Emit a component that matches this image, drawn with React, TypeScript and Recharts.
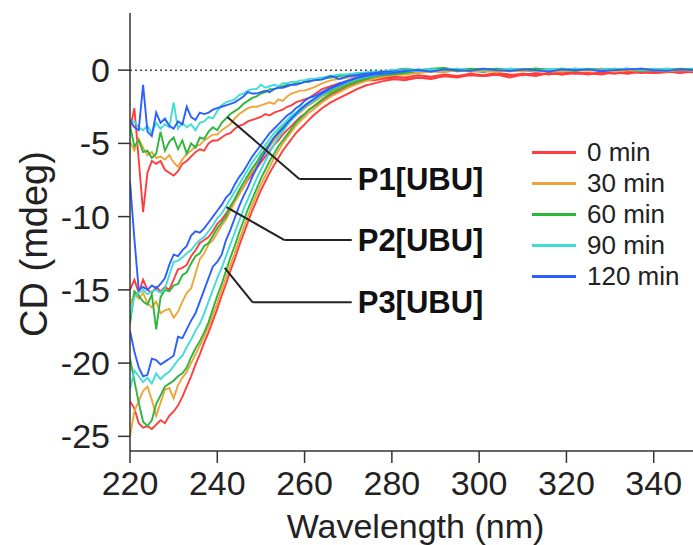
import React from 'react';
import {
  LineChart,
  Line,
  XAxis,
  YAxis,
  ReferenceLine,
  Legend
} from 'recharts';

const FONT = '"Liberation Sans", Arial, Helvetica, sans-serif';

// wavelength grid (nm)
const wavelengths = [
  220, 221, 222, 223, 224, 225, 226, 227, 228, 229, 230, 231, 232, 233, 234, 235, 236, 237, 238, 239,
  240, 241, 242, 243, 244, 245, 246, 247, 248, 249, 250, 251, 252, 253, 254, 255, 256, 257, 258, 259,
  260, 261, 262,
  264, 266, 268, 270, 272, 274, 276, 278, 280,
  283, 286, 289, 292, 295, 298, 301, 304, 307, 310, 313, 316, 319, 322, 325, 328, 331, 334, 337, 340,
  343, 346, 349
];

const xTicks = [220, 240, 260, 280, 300, 320, 340];
const yTicks = [-25, -20, -15, -10, -5, 0];

const times = ['0 min', '30 min', '60 min', '90 min', '120 min'];
const colors = ['#ff3d3d', '#eda53a', '#2db53c', '#3fdcd8', '#2b5fff'];

// P1[UBU]
const p1_0 = [
  -4.0, -2.6, -6.1, -9.7, -7.0, -6.2, -6.4, -6.2, -6.8, -7.0, -7.2, -6.9, -6.4, -6.2, -5.9, -5.6, -5.4, -5.5, -5.0, -4.8,
  -4.8, -4.6, -4.4, -4.3, -4.0, -3.8, -3.7, -3.5, -3.4, -3.3, -3.2, -3.0, -3.1, -2.9, -2.8, -2.7, -2.5, -2.4, -2.2, -2.1,
  -2.0, -1.9, -1.7,
  -1.3, -1.1, -0.9, -0.9, -0.8, -0.7, -0.7, -0.6, -0.6,
  -0.7, -0.5, -0.6, -0.4, -0.5, -0.3, -0.4, -0.3, -0.5, -0.3, -0.4, -0.2, -0.3, -0.2, -0.3, -0.15, -0.25, -0.1, -0.2, -0.15,
  -0.1, -0.2, -0.1
];
const p1_30 = [
  -4.9, -5.5, -4.7, -5.3, -5.8, -5.6, -6.0, -5.9, -6.1, -5.8, -6.3, -6.6, -6.1, -5.7, -5.5, -5.2, -5.1, -4.8, -4.6, -4.4,
  -4.4, -4.1, -3.9, -3.7, -3.3, -3.0, -2.8, -2.6, -2.5, -2.5, -2.4, -2.3, -2.2, -2.3, -2.0, -2.1, -1.8, -1.6, -1.5, -1.4,
  -1.4, -1.3, -1.2,
  -0.9, -0.7, -0.6, -0.5, -0.4, -0.35, -0.3, -0.2, -0.15,
  -0.1, 0.0, -0.05, 0.05, -0.1, 0.0, -0.05, 0.05, -0.1, 0.0, -0.05, 0.05, 0.0, -0.05, 0.05, 0.0, -0.1, 0.0, 0.05, -0.05,
  0.0, -0.05, 0.0
];
const p1_60 = [
  -3.8, -5.2, -4.8, -5.6, -5.5, -6.0, -5.7, -4.2, -5.5, -4.9, -4.6, -5.4, -4.8, -5.7, -5.0, -5.3, -4.6, -4.7, -4.2, -3.9,
  -4.1, -3.6, -3.3, -3.0, -2.8, -2.6, -2.3, -2.1, -1.9, -1.8, -1.6, -1.5, -1.3, -1.3, -1.2, -1.1, -1.0, -1.0, -0.9, -0.9,
  -0.8, -0.7, -0.7,
  -0.6, -0.5, -0.4, -0.3, -0.25, -0.2, -0.1, -0.1, 0.0,
  0.1, 0.0, 0.1, 0.15, 0.0, 0.1, 0.05, 0.1, 0.0, 0.05, 0.1, 0.0, 0.1, 0.05, 0.0, 0.1, 0.05, 0.0, 0.1, 0.05,
  0.0, 0.05, 0.0
];
const p1_90 = [
  -3.6, -3.5, -3.9, -4.1, -3.8, -4.3, -3.6, -4.0, -3.7, -3.9, -2.2, -4.0, -3.6, -3.9, -3.7, -4.1, -3.6, -3.5, -3.2, -3.3,
  -2.8, -2.4, -2.2, -2.1, -2.0, -1.7, -1.6, -1.4, -1.3, -1.3, -1.0, -1.2, -1.1, -1.0, -1.1, -0.9, -0.9, -0.8, -0.8, -0.7,
  -0.7, -0.6, -0.6,
  -0.5, -0.4, -0.3, -0.3, -0.2, -0.15, -0.1, -0.1, 0.0,
  0.05, -0.05, 0.1, 0.0, 0.05, 0.0, 0.05, -0.05, 0.1, 0.0, 0.05, -0.05, 0.05, 0.1, 0.0, 0.05, 0.1, 0.0, 0.05, 0.0,
  0.1, 0.05, 0.1
];
const p1_120 = [
  -3.4, -3.9, -4.1, -1.0, -4.2, -4.5, -2.9, -3.6, -3.3, -3.8, -4.0, -3.5, -3.7, -2.5, -3.2, -3.4, -2.9, -3.0, -2.9, -2.7,
  -2.6, -2.5, -2.4, -2.3, -2.2, -2.0, -1.8, -1.5, -1.6, -1.6, -1.5, -1.4, -1.5, -1.3, -1.2, -1.2, -1.1, -1.0, -1.0, -0.9,
  -0.8, -0.8, -0.7,
  -0.65, -0.4, -0.6, -0.4, -0.35, -0.25, -0.2, -0.1, -0.1,
  0.0, -0.1, 0.05, -0.05, 0.05, -0.1, 0.0, -0.05, 0.05, 0.0, -0.1, 0.0, -0.05, 0.05, 0.0, -0.05, 0.0, 0.05, -0.05, 0.0,
  0.05, 0.0, 0.05
];

// P2[UBU]
const p2_0 = [
  -15.0, -14.3, -15.2, -14.3, -15.0, -15.2, -14.8, -15.1, -14.8, -15.0, -14.3, -13.6, -13.5, -13.3, -12.7, -12.3, -11.8, -11.6, -11.4, -11.0,
  -10.5, -10.2, -9.8, -9.3, -8.9, -8.4, -8.0, -7.5, -7.1, -6.7, -6.3, -5.9, -5.5, -5.1, -4.8, -4.4, -4.1, -3.8, -3.5, -3.2,
  -3.0, -2.7, -2.5,
  -2.1, -1.7, -1.4, -1.1, -0.9, -0.7, -0.6, -0.5, -0.45,
  -0.5, -0.35, -0.45, -0.3, -0.4, -0.25, -0.35, -0.2, -0.3, -0.35, -0.2, -0.3, -0.15, -0.25, -0.2, -0.3, -0.15, -0.2, -0.1, -0.2,
  -0.15, -0.1, -0.15
];
const p2_30 = [
  -16.0, -15.3, -15.6, -15.2, -15.9, -16.2, -15.8, -16.6, -16.4, -16.3, -16.9, -16.5, -15.8, -15.2, -14.9, -13.9, -12.9, -12.5, -11.9, -11.6,
  -11.1, -10.6, -10.2, -9.6, -9.0, -8.5, -8.0, -7.4, -6.9, -6.5, -6.0, -5.6, -5.2, -4.8, -4.4, -4.0, -3.7, -3.4, -3.1, -2.9,
  -2.6, -2.4, -2.2,
  -1.8, -1.5, -1.2, -0.9, -0.7, -0.55, -0.4, -0.3, -0.25,
  -0.2, -0.1, 0.0, -0.1, 0.05, -0.05, -0.15, 0.0, -0.05, 0.05, -0.1, 0.0, 0.05, -0.05, 0.0, 0.05, -0.05, 0.0, 0.05, 0.0,
  -0.05, 0.05, 0.0
];
const p2_60 = [
  -17.3, -15.1, -15.4, -15.8, -16.0, -15.3, -17.7, -15.5, -15.0, -15.1, -14.7, -14.6, -14.0, -13.8, -13.2, -12.7, -12.5, -12.0, -11.8, -11.3,
  -10.8, -10.4, -10.0, -9.3, -8.8, -8.2, -7.7, -7.2, -6.7, -6.3, -5.8, -5.4, -5.0, -4.6, -4.2, -3.9, -3.6, -3.3, -3.0, -2.8,
  -2.5, -2.3, -2.1,
  -1.7, -1.4, -1.1, -0.85, -0.65, -0.5, -0.35, -0.25, -0.2,
  -0.1, 0.05, -0.05, 0.1, 0.0, 0.05, 0.1, 0.0, 0.05, -0.05, 0.1, 0.05, 0.0, 0.1, 0.05, 0.0, 0.05, 0.1, 0.0, 0.05,
  0.1, 0.0, 0.05
];
const p2_90 = [
  -16.8, -15.5, -15.2, -15.0, -15.3, -15.1, -15.0, -15.2, -14.9, -14.0, -13.1, -13.0, -12.8, -12.5, -12.3, -11.9, -11.6, -11.4, -11.0, -10.6,
  -10.1, -9.8, -9.3, -8.8, -8.3, -7.8, -7.3, -6.8, -6.3, -5.9, -5.5, -5.1, -4.7, -4.3, -4.0, -3.7, -3.4, -3.1, -2.9, -2.6,
  -2.4, -2.2, -2.0,
  -1.6, -1.3, -1.0, -0.8, -0.6, -0.45, -0.35, -0.25, -0.2,
  -0.05, 0.05, -0.1, 0.0, 0.1, 0.0, 0.05, -0.05, 0.1, 0.05, 0.0, 0.05, 0.1, 0.0, 0.05, 0.0, 0.1, 0.05, 0.0, 0.1,
  0.05, 0.0, 0.1
];
const p2_120 = [
  -7.6, -11.5, -15.0, -14.8, -15.0, -14.7, -14.9, -14.6, -14.2, -13.3, -12.6, -12.7, -12.3, -12.0, -11.3, -11.0, -11.1, -10.8, -10.4, -10.0,
  -9.6, -9.2, -8.7, -8.4, -7.8, -7.3, -6.9, -6.4, -5.9, -5.5, -5.1, -4.7, -4.3, -4.0, -3.7, -3.4, -3.1, -2.9, -2.6, -2.4,
  -2.1, -1.9, -1.8,
  -1.5, -1.2, -0.9, -0.7, -0.5, -0.4, -0.3, -0.2, -0.2,
  -0.1, 0.0, -0.1, 0.05, -0.05, 0.0, -0.1, 0.05, 0.0, -0.05, 0.05, 0.0, -0.05, 0.0, 0.05, -0.05, 0.0, 0.05, 0.0, -0.05,
  0.0, 0.05, 0.0
];

// P3[UBU]
const p3_0 = [
  -22.6, -23.1, -24.1, -24.4, -24.3, -24.5, -24.2, -23.9, -24.1, -23.6, -23.3, -22.9, -22.3, -21.6, -20.9, -20.1, -19.4, -18.6, -17.9, -17.1,
  -16.3, -15.4, -14.6, -13.7, -12.9, -12.0, -11.2, -10.4, -9.6, -8.9, -8.2, -7.6, -7.0, -6.5, -6.0, -5.5, -5.1, -4.7, -4.3, -4.0,
  -3.7, -3.4, -3.1,
  -2.6, -2.2, -1.9, -1.6, -1.3, -1.05, -0.9, -0.75, -0.65,
  -0.6, -0.5, -0.55, -0.4, -0.45, -0.35, -0.4, -0.3, -0.35, -0.25, -0.3, -0.2, -0.3, -0.15, -0.25, -0.2, -0.15, -0.25, -0.1, -0.2,
  -0.1, -0.15, -0.1
];
const p3_30 = [
  -25.0, -23.3, -22.6, -21.9, -21.6, -22.5, -23.6, -22.7, -21.8, -21.7, -22.4, -21.5, -21.0, -20.6, -20.0, -19.4, -18.8, -18.2, -17.5, -16.7,
  -15.9, -15.0, -14.2, -13.3, -12.5, -11.6, -10.8, -10.0, -9.2, -8.5, -7.8, -7.2, -6.6, -6.0, -5.5, -5.0, -4.6, -4.2, -3.8, -3.5,
  -3.2, -2.9, -2.7,
  -2.2, -1.8, -1.5, -1.2, -0.95, -0.75, -0.6, -0.45, -0.35,
  -0.3, -0.2, -0.1, -0.15, 0.0, -0.1, -0.05, -0.15, 0.0, -0.1, 0.05, -0.05, -0.1, 0.0, -0.05, 0.05, -0.1, 0.0, -0.05, 0.0,
  -0.1, 0.0, -0.05
];
const p3_60 = [
  -19.7, -21.2, -22.7, -24.0, -24.3, -23.9, -22.8, -22.2, -21.6, -21.4, -21.2, -20.9, -20.7, -20.3, -19.6, -19.0, -18.5, -17.9, -17.2, -16.3,
  -15.4, -14.6, -13.7, -12.8, -12.0, -11.1, -10.3, -9.5, -8.8, -8.1, -7.4, -6.8, -6.2, -5.7, -5.2, -4.8, -4.4, -4.0, -3.6, -3.3,
  -3.0, -2.7, -2.5,
  -2.0, -1.6, -1.3, -1.0, -0.8, -0.6, -0.45, -0.35, -0.3,
  -0.2, -0.05, 0.0, 0.1, -0.05, 0.05, 0.0, 0.1, -0.05, 0.05, 0.1, 0.0, 0.05, -0.05, 0.1, 0.0, 0.05, 0.1, -0.05, 0.05,
  0.0, 0.1, 0.05
];
const p3_90 = [
  -21.8, -20.5, -20.9, -21.3, -21.0, -21.4, -20.7, -21.1, -20.8, -20.6, -20.2, -19.8, -19.5, -18.9, -18.4, -17.8, -17.3, -16.6, -15.8, -15.0,
  -14.2, -13.5, -12.7, -11.9, -11.1, -10.3, -9.5, -8.8, -8.1, -7.4, -6.8, -6.2, -5.6, -5.1, -4.6, -4.2, -3.8, -3.4, -3.1, -2.8,
  -2.5, -2.3, -2.1,
  -1.7, -1.3, -1.05, -0.8, -0.6, -0.45, -0.35, -0.25, -0.2,
  0.0, -0.1, 0.05, 0.0, 0.1, -0.05, 0.05, 0.0, 0.1, 0.05, -0.05, 0.05, 0.0, 0.1, 0.05, 0.0, 0.05, 0.1, 0.0, 0.05,
  0.1, 0.0, 0.05
];
const p3_120 = [
  -17.8, -19.2, -20.3, -20.9, -20.8, -19.7, -19.8, -20.1, -19.9, -19.7, -19.5, -18.2, -18.3, -17.7, -17.1, -16.6, -15.8, -15.0, -14.2, -13.4,
  -13.1, -12.6, -11.6, -10.9, -10.1, -9.3, -8.6, -8.0, -7.3, -6.7, -6.1, -5.6, -5.1, -4.6, -4.3, -4.0, -3.6, -3.3, -3.0, -2.7,
  -2.45, -2.2, -2.0,
  -1.6, -1.25, -1.0, -0.75, -0.55, -0.4, -0.3, -0.25, -0.2,
  -0.05, 0.0, -0.1, 0.05, 0.0, -0.05, 0.1, 0.0, -0.05, 0.05, 0.0, -0.1, 0.05, 0.0, 0.05, -0.05, 0.0, 0.05, 0.1, 0.0,
  -0.05, 0.05, 0.0
];

const groups = [
  { key: 'p1', series: [p1_0, p1_30, p1_60, p1_90, p1_120] },
  { key: 'p2', series: [p2_0, p2_30, p2_60, p2_90, p2_120] },
  { key: 'p3', series: [p3_0, p3_30, p3_60, p3_90, p3_120] }
];

// leader lines for the sample labels, in data units: [start, bend, end]
const annotations = [
  { name: 'P1[UBU]', pts: [[242.3, -3.2], [258.8, -7.43], [270.8, -7.43]] },
  { name: 'P2[UBU]', pts: [[242.1, -9.35], [255.4, -11.6], [270.8, -11.6]] },
  { name: 'P3[UBU]', pts: [[241.7, -13.5], [248.1, -15.85], [270.8, -15.85]] }
];

const data = wavelengths.map((nm, i) => {
  const row: Record<string, number> = { nm };
  groups.forEach(g => {
    g.series.forEach((s, j) => {
      row[`${g.key}_${j}`] = s[i];
    });
  });
  return row;
});

const renderLegend = () => (
  <div style={{ fontFamily: FONT, fontSize: 26, color: '#222' }}>
    {times.map((t, i) => (
      <div key={t} style={{ display: 'flex', alignItems: 'center', height: 31 }}>
        <div style={{ width: 44, height: 2.5, background: colors[i], marginRight: 11 }} />
        <span style={{ lineHeight: '31px' }}>{t}</span>
      </div>
    ))}
  </div>
);

const YTitle = (props: any) => {
  const vb = props.viewBox || { x: 0, y: 13, width: 130, height: 438 };
  const cx = vb.x + 47;
  const cy = vb.y + vb.height / 2 + 12;
  return (
    <text
      x={cx}
      y={cy}
      transform={`rotate(-90, ${cx}, ${cy})`}
      textAnchor="middle"
      fontSize={38}
      fontFamily={FONT}
      fill="#222"
    >
      CD (mdeg)
    </text>
  );
};

const XTitle = (props: any) => {
  const vb = props.viewBox || { x: 130, y: 451, width: 563, height: 94 };
  return (
    <text
      x={vb.x + vb.width / 2 + 4}
      y={vb.y + vb.height - 7}
      textAnchor="middle"
      fontSize={34}
      fontFamily={FONT}
      fill="#222"
    >
      Wavelength (nm)
    </text>
  );
};

export default function App() {
  return (
    <div style={{ position: 'absolute', left: 0, top: 0, width: 693, height: 545, background: '#fff' }}>
      <LineChart width={693} height={545} data={data} margin={{ top: 13, right: 0, bottom: 0, left: 0 }}>
        <XAxis
          type="number"
          dataKey="nm"
          domain={[220, 349]}
          ticks={xTicks}
          interval={0}
          allowDataOverflow
          height={94}
          tickSize={12}
          tickMargin={8}
          stroke="#333"
          strokeWidth={1.5}
          tick={{ fontSize: 34, fill: '#222', fontFamily: FONT }}
          label={{ content: XTitle }}
        />
        <YAxis
          type="number"
          domain={[-26, 3.9]}
          ticks={yTicks}
          interval={0}
          allowDataOverflow
          width={130}
          tickSize={12}
          tickMargin={8}
          stroke="#333"
          strokeWidth={1.5}
          tick={{ fontSize: 34, fill: '#222', fontFamily: FONT }}
          label={{ content: YTitle }}
        />
        <ReferenceLine y={0} stroke="#444" strokeWidth={1.5} strokeDasharray="2 3" />
        {groups.map(g =>
          g.series.map((_, j) => (
            <Line
              key={`${g.key}_${j}`}
              type="linear"
              dataKey={`${g.key}_${j}`}
              stroke={colors[j]}
              strokeWidth={1.9}
              dot={false}
              isAnimationActive={false}
              legendType="none"
            />
          ))
        )}
        {annotations.map(a => (
          <ReferenceLine
            key={`${a.name}-diag`}
            segment={[{ x: a.pts[0][0], y: a.pts[0][1] }, { x: a.pts[1][0], y: a.pts[1][1] }]}
            stroke="#222"
            strokeWidth={2}
          />
        ))}
        {annotations.map(a => (
          <ReferenceLine
            key={`${a.name}-flat`}
            segment={[{ x: a.pts[1][0], y: a.pts[1][1] }, { x: a.pts[2][0], y: a.pts[2][1] }]}
            stroke="#222"
            strokeWidth={2}
            label={{
              value: a.name,
              position: 'right',
              offset: 6,
              fontSize: 31,
              fontWeight: 'bold',
              fontFamily: FONT,
              fill: '#111'
            }}
          />
        ))}
        <Legend
          layout="vertical"
          align="center"
          verticalAlign="middle"
          content={renderLegend}
          wrapperStyle={{ left: 532, top: 137, width: 160 }}
        />
      </LineChart>
    </div>
  );
}
